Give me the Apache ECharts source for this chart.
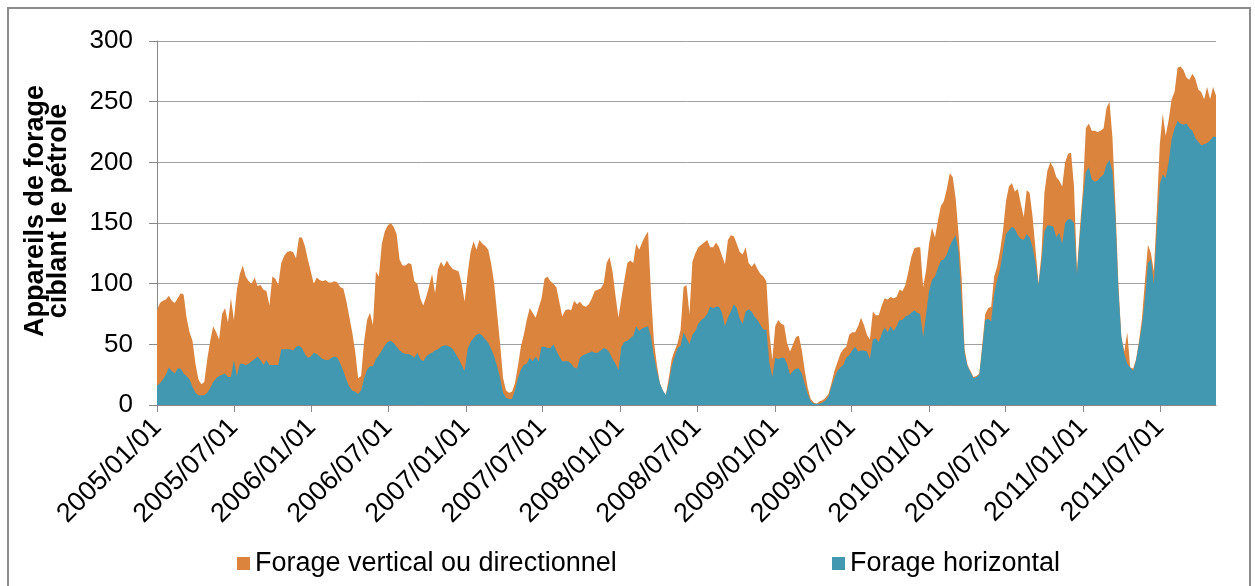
<!DOCTYPE html>
<html>
<head>
<meta charset="utf-8">
<script src="https://cdn.jsdelivr.net/npm/echarts@6/dist/echarts.min.js"></script>
<style>
html,body{margin:0;padding:0;background:#fff;}
#chart{width:1255px;height:586px;}
</style>
</head>
<body>
<div id="chart"></div>
<script>
// Weekly observations, first week ending 2004-12-31
var startDate = [2004, 11, 31];
var tickLabels = ['2005/01/01','2005/07/01','2006/01/01','2006/07/01','2007/01/01','2007/07/01','2008/01/01','2008/07/01','2009/01/01','2009/07/01','2010/01/01','2010/07/01','2011/01/01','2011/07/01'];
var yTicks = [0, 50, 100, 150, 200, 250, 300];
var seriesNames = ['Forage vertical ou directionnel', 'Forage horizontal'];

// Total rigs (vertical/directional + horizontal)
var total = [
78,84,86,87,90,86,84,88,92,91,
72,60,53,34,21,17,19,38,53,65,
60,54,75,80,68,88,70,95,108,115,
106,102,100,105,98,99,95,94,82,106,
104,99,117,123,126,127,126,121,138,138,
131,120,110,100,105,103,102,103,101,101,
102,101,97,96,86,73,60,44,22,24,
52,70,76,66,110,106,133,143,148,150,
147,141,120,115,115,117,116,102,100,88,
82,89,98,108,92,112,118,114,119,115,
112,111,110,100,85,108,126,135,128,136,
133,131,128,116,100,75,50,22,12,10,
11,18,32,48,58,70,80,76,72,80,
88,104,106,102,100,97,85,73,78,79,
78,86,83,85,82,81,83,88,94,95,
96,100,117,122,110,90,72,88,103,117,
119,117,133,128,134,139,143,92,52,33,
18,11,8,22,38,45,51,62,97,99,
75,118,125,130,132,134,136,130,130,134,
130,123,116,136,140,139,133,126,124,130,
117,114,117,112,108,106,102,60,37,65,
70,67,66,51,44,50,56,57,45,28,
14,5,2,1,3,4,6,9,18,28,
35,42,46,48,58,60,60,65,72,66,
58,54,77,74,74,82,88,87,89,88,
89,95,94,99,110,122,129,130,130,97,
111,133,146,138,152,164,168,178,191,188,
170,140,105,46,33,28,23,24,26,50,
75,80,81,106,114,127,144,168,180,183,
176,178,166,155,177,175,155,128,100,125,
175,193,200,196,188,185,180,200,207,208,
180,111,146,177,228,232,226,226,225,226,
228,245,250,220,165,100,56,44,60,31,
30,38,53,72,103,132,125,110,160,215,
240,222,235,252,258,278,279,276,270,268,
273,269,260,258,252,262,252,262,255
];

// Horizontal rigs
var horizontal = [
16,18,21,25,31,28,26,30,30,26,
24,21,15,10,8,8,8,10,14,19,
22,24,25,26,23,23,37,24,34,34,
33,34,36,38,40,37,33,37,33,33,
33,33,46,46,46,46,45,48,49,47,
42,39,40,43,42,40,38,37,37,39,
40,39,34,28,21,15,12,11,9,12,
22,29,32,32,38,41,45,49,52,53,
51,48,45,43,42,42,41,39,43,38,
36,40,42,43,45,46,48,49,49,48,
46,42,38,33,28,46,52,55,58,59,
57,54,51,46,40,32,22,10,6,5,
5,12,22,29,33,34,39,36,40,36,
48,48,47,47,50,45,40,36,36,36,
34,31,30,39,41,42,43,44,43,43,
45,47,46,43,38,34,29,48,52,53,
55,57,65,61,63,64,65,56,40,28,
18,12,8,18,32,40,47,49,60,55,
50,58,61,67,70,72,75,81,80,81,
81,76,65,72,77,83,80,71,67,77,
79,77,73,70,66,62,62,35,23,39,
38,39,39,34,25,28,30,30,26,17,
9,3,1,1,1,2,4,7,15,22,
28,31,33,39,41,45,48,44,45,45,
44,38,54,55,52,59,64,60,65,61,
65,70,70,73,74,76,78,76,75,56,
75,94,103,106,113,119,120,124,131,136,
140,126,85,43,32,27,22,23,25,47,
70,71,69,91,103,112,127,141,144,147,
145,140,137,136,141,138,130,117,99,118,
143,148,148,147,138,142,133,150,153,153,
150,108,140,169,192,196,186,184,185,188,
190,198,202,192,155,95,56,42,34,31,
28,37,51,66,88,117,120,100,145,182,
190,187,200,219,228,234,232,231,232,228,
226,220,217,214,215,216,218,221,221
];

var DAY = 86400000;
var t0 = Date.UTC(startDate[0], startDate[1], startDate[2]);
function dayOf(s) {
  var p = s.split('/');
  return Math.round((Date.UTC(+p[0], +p[1] - 1, +p[2]) - t0) / DAY);
}
var n = Math.min(total.length, horizontal.length);
// The vertical/directional band sits on top of the horizontal band:
// its upper edge is the total count.
var horizData = [], topData = [];
for (var i = 0; i < n; i++) {
  horizData.push([7 * i, horizontal[i]]);
  topData.push([7 * i, Math.max(total[i], horizontal[i])]);
}
var tickDays = tickLabels.map(dayOf);

var FONT = 'Liberation Sans, Arial, sans-serif';
var chart = echarts.init(document.getElementById('chart'), null, {renderer: 'canvas'});
chart.setOption({
  animation: false,
  backgroundColor: '#ffffff',
  grid: {left: 157, right: 39, top: 41, bottom: 181, containLabel: false},
  legend: [
    {
      left: 237, top: 550, padding: 0, icon: 'rect', itemWidth: 13, itemHeight: 13,
      data: [seriesNames[0]],
      textStyle: {fontSize: 27, color: '#000', fontFamily: FONT}
    },
    {
      left: 832, top: 550, padding: 0, icon: 'rect', itemWidth: 13, itemHeight: 13,
      data: [seriesNames[1]],
      textStyle: {fontSize: 27, color: '#000', fontFamily: FONT}
    }
  ],
  xAxis: {
    type: 'value',
    min: 0,
    max: 7 * (n - 1),
    axisLine: {show: true, onZero: false, lineStyle: {color: '#888888', width: 1}},
    axisTick: {show: true, length: 7, lineStyle: {color: '#888888'}, customValues: tickDays},
    splitLine: {show: false},
    axisLabel: {
      customValues: tickDays,
      rotate: 45,
      margin: 18,
      fontSize: 27,
      color: '#000',
      fontFamily: FONT,
      hideOverlap: false,
      showMinLabel: true,
      showMaxLabel: true,
      formatter: function (v) {
        var k = tickDays.indexOf(Math.round(v));
        return k >= 0 ? tickLabels[k] : '';
      }
    }
  },
  yAxis: {
    type: 'value',
    min: yTicks[0],
    max: yTicks[yTicks.length - 1],
    interval: yTicks[1] - yTicks[0],
    axisLine: {show: true, lineStyle: {color: '#888888', width: 1}},
    axisTick: {show: true, length: 8, lineStyle: {color: '#888888'}},
    splitLine: {show: true, lineStyle: {color: '#a0a0a0', width: 1}},
    axisLabel: {fontSize: 26, color: '#000', margin: 24, fontFamily: FONT}
  },
  series: [
    {
      name: seriesNames[0],
      type: 'line',
      data: topData,
      showSymbol: false,
      symbol: 'none',
      lineStyle: {width: 0},
      itemStyle: {color: '#da843e'},
      areaStyle: {color: '#da843e', opacity: 1},
      z: 2
    },
    {
      name: seriesNames[1],
      type: 'line',
      data: horizData,
      showSymbol: false,
      symbol: 'none',
      lineStyle: {width: 0},
      itemStyle: {color: '#4398b1'},
      areaStyle: {color: '#4398b1', opacity: 1},
      z: 3
    }
  ],
  graphic: [
    {
      type: 'rect',
      shape: {x: 8, y: 8, width: 1242, height: 600},
      style: {fill: 'none', stroke: '#8c8c8c', lineWidth: 2},
      silent: true, z: -1
    },
    {
      type: 'text',
      x: 47, y: 211,
      rotation: Math.PI / 2,
      style: {
        text: 'Appareils de forage\nciblant le pétrole',
        font: 'bold 27px ' + FONT,
        fill: '#000',
        align: 'center',
        verticalAlign: 'middle',
        lineHeight: 23
      }
    }
  ]
});
</script>
</body>
</html>
